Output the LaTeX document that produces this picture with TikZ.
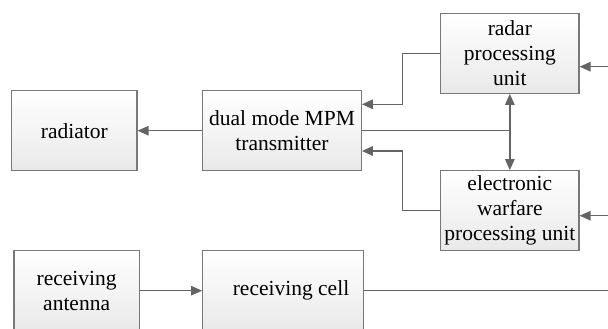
\documentclass[tikz,border=0pt]{standalone}
\usepackage{fontspec}
\newfontfamily\fa{Liberation Serif}
\usetikzlibrary{arrows.meta,calc}
\definecolor{linegray}{RGB}{100,100,100}
\definecolor{boxgray}{RGB}{120,120,120}
\begin{document}
\begin{tikzpicture}[x=1pt,y=-1pt,
  blk/.style={draw=boxgray, line width=1.2pt, fill=white,
    path picture={
      \foreach \i [evaluate=\i as \c using \i*0.45, evaluate=\i as \e using (\i+1.1)/20] in {0,...,19}
        \fill[black!\c] ($(path picture bounding box.north west)!\i/20!(path picture bounding box.south west)$)
          rectangle ($(path picture bounding box.north east)!\e!(path picture bounding box.south east)$);
    },
    minimum height=80pt, inner sep=2pt, align=center, text=black,
    font=\fa\fontsize{21.5}{25}\selectfont},
  conn/.style={draw=linegray, line width=1.4pt},
  arr/.style={conn, -{Triangle[length=11pt,width=9.5pt]}},
  darr/.style={conn, {Triangle[length=11pt,width=9.5pt]}-{Triangle[length=11pt,width=9.5pt]}}]
\useasboundingbox (0,0) rectangle (608,329);
\node[blk, minimum width=125.3pt] (rad) at (74.35,130.7) {radiator};
\node[blk, minimum width=158.6pt] (mpm) at (282,130.7) {dual mode MPM\\transmitter};
\node[blk, minimum width=138.3pt] (rpu) at (509.85,53.3) {radar\\processing\\unit};
\node[blk, minimum width=138.3pt] (ewu) at (509.85,210.7) {electronic\\warfare\\processing unit};
\node[blk, minimum width=125.3pt] (ant) at (76.65,290.7) {receiving\\antenna};
\node[blk, minimum width=160.6pt] (cell) at (283,290.7) {\hspace*{16pt}receiving cell};
\coordinate (rin) at (608,66.7);
\coordinate (ein) at (608,215.7);
\coordinate (cout) at (608,290.7);
\coordinate (junc) at (509.85,130.7);
% connectors
\draw[arr] (mpm.west) -- (rad.east);
\draw[arr] (rpu.west) -- ++(-37.4,0) |- ([yshift=26.4pt]mpm.east);
\draw[arr] (ewu.west) -- ++(-37.4,0) |- ([yshift=-20.3pt]mpm.east);
\draw[conn] (mpm.east) -- (junc);
\draw[darr] (rpu.south) -- (ewu.north);
\draw[arr] (rin) -- (rin -| rpu.east);
\draw[arr] (ein) -- (ein -| ewu.east);
\draw[arr] (ant.east) -- (cell.west);
\draw[conn] (cell.east) -- (cout);
\end{tikzpicture}
\end{document}
